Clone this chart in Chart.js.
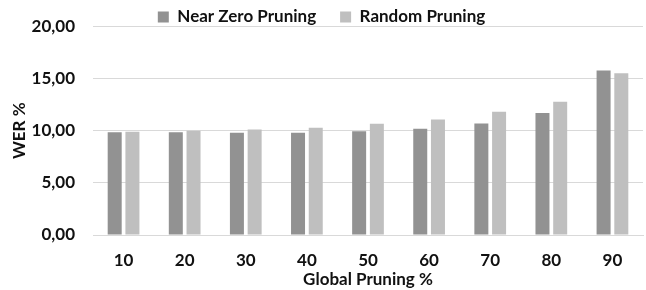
<!DOCTYPE html>
<html>
<head>
<meta charset="utf-8">
<script src="https://cdn.jsdelivr.net/npm/chart.js@4.4.1/dist/chart.umd.min.js"></script>
<style>
    html, body { margin: 0; padding: 0; background: #ffffff; }
    #wrap { width: 646px; height: 290px; }
</style>
</head>
<body>
<div id="wrap"><canvas id="werChart"></canvas></div>
<script>
// --- data ---
const CATEGORIES = ['10', '20', '30', '40', '50', '60', '70', '80', '90'];
const NEAR_ZERO = [9.86, 9.86, 9.80, 9.80, 9.95, 10.18, 10.69, 11.71, 15.77];
const RANDOM = [9.90, 9.99, 10.11, 10.28, 10.66, 11.07, 11.83, 12.79, 15.52];
const SERIES_NAMES = ['Near Zero Pruning', 'Random Pruning'];
const Y_MIN = 0;
const Y_MAX = 20;
const Y_STEP = 5;

const COLORS = {
    nearZero: '#929292',
    random: '#bfbfbf',
    grid: '#d9d9d9',
    text: '#111111'
};

const FONT = { family: 'Lato', weight: 'bold', size: 17, lineHeight: 1 };

// pull the legend up so it sits in the margin above the plot
const legendFitPlugin = {
    id: 'legendFit',
    beforeInit(chart) {
        const originalFit = chart.legend.fit;
        chart.legend.fit = function fit() {
            originalFit.bind(chart.legend)();
            this.height = 42;
        };
    }
};

function formatTick(value) {
    return Number(value).toFixed(2).replace('.', ',');
}

const ctx = document.getElementById('werChart').getContext('2d');
new Chart(ctx, {
    type: 'bar',
    data: {
        labels: CATEGORIES,
        datasets: [
            {
                label: SERIES_NAMES[0],
                data: NEAR_ZERO,
                backgroundColor: COLORS.nearZero,
                categoryPercentage: 0.58,
                barPercentage: 0.79
            },
            {
                label: SERIES_NAMES[1],
                data: RANDOM,
                backgroundColor: COLORS.random,
                categoryPercentage: 0.58,
                barPercentage: 0.79
            }
        ]
    },
    options: {
        responsive: true,
        maintainAspectRatio: false,
        animation: false,
        layout: { padding: { top: -17, right: 3, bottom: 0, left: 0 } },
        plugins: {
            legend: {
                position: 'top',
                align: 'center',
                labels: {
                    boxWidth: 11,
                    boxHeight: 11,
                    padding: 24,
                    color: COLORS.text,
                    font: FONT
                }
            },
            tooltip: { enabled: false }
        },
        scales: {
            x: {
                grid: { display: false, drawTicks: false },
                border: { display: true, color: COLORS.grid, width: 1 },
                ticks: { color: COLORS.text, font: FONT, padding: 17 },
                title: {
                    display: true,
                    text: 'Global Pruning %',
                    color: COLORS.text,
                    font: FONT,
                    padding: { top: 2, bottom: 2 }
                },
                // Chart.js counts tick padding twice; fix the band height
                afterFit(scale) { scale.height = 55; }
            },
            y: {
                min: Y_MIN,
                max: Y_MAX,
                grid: { color: COLORS.grid, drawTicks: false },
                border: { display: false },
                ticks: {
                    stepSize: Y_STEP,
                    color: COLORS.text,
                    font: FONT,
                    padding: 18,
                    callback: formatTick
                },
                title: {
                    display: true,
                    text: 'WER %',
                    color: COLORS.text,
                    font: FONT,
                    padding: { top: 11, bottom: 3 }
                },
                afterFit(scale) { scale.width = 93; }
            }
        }
    },
    plugins: [legendFitPlugin]
});
</script>
</body>
</html>
